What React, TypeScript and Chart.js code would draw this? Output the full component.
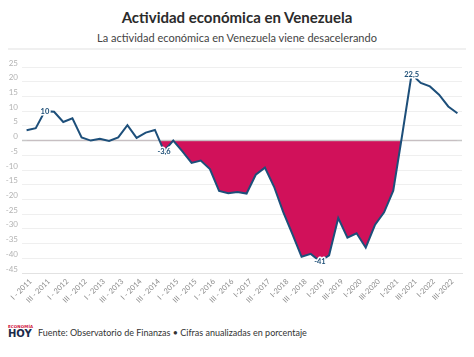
import React, { useEffect, useRef } from "react";
import { Chart, registerables } from "chart.js";

Chart.register(...registerables);

const categories: string[] = [
  "I - 2011", "II - 2011", "III - 2011", "IV - 2011",
  "I - 2012", "II - 2012", "III - 2012", "IV - 2012",
  "I - 2013", "II - 2013", "III - 2013", "IV - 2013",
  "I - 2014", "II - 2014", "III - 2014", "IV - 2014",
  "I - 2015", "II - 2015", "III - 2015", "IV - 2015",
  "I - 2016", "II - 2016", "III - 2016", "IV - 2016",
  "I-2017", "II - 2017", "III - 2017", "IV - 2017",
  "I-2018", "II - 2018", "III - 2018", "IV - 2018",
  "I-2019", "II-2019", "III-2019", "IV-2019",
  "I-2020", "II-2020", "III-2020", "IV-2020",
  "I-2021", "II-2021", "III-2021", "IV-2021",
  "I-2022", "II-2022", "III-2022", "IV-2022",
];

// visible x tick labels (every other quarter)
const xTickLabels: string[] = [
  "I - 2011", "III - 2011", "I - 2012", "III - 2012",
  "I - 2013", "III - 2013", "I - 2014", "III - 2014",
  "I - 2015", "III - 2015", "I - 2016", "III - 2016",
  "I-2017", "III - 2017", "I-2018", "III - 2018",
  "I-2019", "III-2019", "I-2020", "III-2020",
  "I-2021", "III-2021", "I-2022", "III-2022",
];

const activity: number[] = [
  3.5, 4.2, 10, 9.8, 6.3, 7.6, 1.1, 0,
  0.6, -0.1, 1.1, 5.2, 0.9, 2.7, 3.6, -3.6,
  0, -3.7, -7.6, -6.8, -9.7, -17.1, -17.9, -17.5,
  -18, -11.6, -9.2, -15.7, -24.3, -31.8, -39.5, -38.5,
  -41, -39, -26.3, -33, -31.5, -36.4, -28.7, -24.4,
  -17, 2.4, 22.5, 19.6, 18.4, 15.6, 11.6, 9.3,
];

const annotatedIndices: number[] = [2, 15, 32, 42];
const annotationTexts: string[] = ["10", "-3,6", "-41", "22,5"];

const yMin = -45;
const yMax = 25;
const yStep = 5;

const FONT = "Lato, 'Open Sans', sans-serif";

const zeroLinePlugin = {
  id: "zeroLine",
  beforeDatasetsDraw(chart: any) {
    const y = chart.scales.y.getPixelForValue(0);
    const { left, right } = chart.chartArea;
    const ctx = chart.ctx;
    ctx.save();
    ctx.strokeStyle = "rgba(190,190,190,0.85)";
    ctx.lineWidth = 1.5;
    ctx.beginPath();
    ctx.moveTo(left, y);
    ctx.lineTo(right, y);
    ctx.stroke();
    ctx.restore();
  },
};

const labelPlugin = {
  id: "valueLabels",
  afterDatasetsDraw(chart: any) {
    const meta = chart.getDatasetMeta(0);
    const ctx = chart.ctx;
    ctx.save();
    ctx.font = "bold 7.5px " + FONT;
    ctx.textAlign = "center";
    ctx.textBaseline = "middle";
    annotatedIndices.forEach((idx, k) => {
      const pt = meta.data[idx];
      if (!pt) return;
      ctx.lineWidth = 3;
      ctx.strokeStyle = "#ffffff";
      ctx.lineJoin = "round";
      ctx.strokeText(annotationTexts[k], pt.x, pt.y);
      ctx.fillStyle = "#1b4d75";
      ctx.fillText(annotationTexts[k], pt.x, pt.y);
    });
    ctx.restore();
  },
};

export default function App() {
  const canvasRef = useRef<HTMLCanvasElement | null>(null);

  useEffect(() => {
    if (!canvasRef.current) return;
    const chart = new Chart(canvasRef.current, {
      type: "line",
      data: {
        labels: categories,
        datasets: [
          {
            data: activity,
            borderColor: "#1d4f7a",
            borderWidth: 2,
            pointRadius: 0,
            tension: 0,
            fill: {
              target: { value: 0 },
              above: "rgba(0,0,0,0)",
              below: "#d1115a",
            },
          } as any,
        ],
      },
      options: {
        animation: false,
        responsive: false,
        maintainAspectRatio: false,
        layout: { padding: { top: 17, right: 12, left: 0, bottom: 0 } },
        plugins: {
          legend: { display: false },
          tooltip: { enabled: false },
          title: { display: false },
          filler: { drawTime: "beforeDatasetsDraw" },
        } as any,
        scales: {
          x: {
            offset: true,
            grid: { display: false, drawTicks: false },
            border: { display: true, color: "#e2e2e2", dash: [2, 2] },
            ticks: {
              autoSkip: false,
              maxRotation: 45,
              minRotation: 45,
              padding: 4,
              labelOffset: 4,
              color: "#8a8a8a",
              font: { family: FONT, size: 7.5 },
              callback: (_v: any, i: number) => (i % 2 === 0 ? xTickLabels[i / 2] : ""),
            },
            afterFit: (s: any) => {
              s.height = 39;
            },
          },
          y: {
            min: yMin,
            max: yMax,
            grid: {
              drawTicks: false,
              color: (c: any) => (c.tick && c.tick.value === 0 ? "rgba(0,0,0,0)" : "#efefef"),
              lineWidth: 1,
            },
            border: { display: false },
            ticks: {
              stepSize: yStep,
              padding: 4,
              labelOffset: -4,
              color: "#b3b3b3",
              font: { family: FONT, size: 8 },
            },
            afterFit: (s: any) => {
              s.width = 22;
            },
          },
        },
      },
      plugins: [zeroLinePlugin, labelPlugin],
    });
    return () => chart.destroy();
  }, []);

  return (
    <div
      style={{
        position: "fixed",
        left: 0,
        top: 0,
        width: 474,
        height: 357,
        background: "#ffffff",
        fontFamily: FONT,
        overflow: "hidden",
      }}
    >
      <div
        style={{
          position: "absolute",
          top: 9.5,
          left: 0,
          width: 474,
          textAlign: "center",
          fontSize: 15,
          lineHeight: "15px",
          fontWeight: 700,
          color: "#2b2b2b",
          whiteSpace: "nowrap",
        }}
      >
        Actividad económica en Venezuela
      </div>
      <div
        style={{
          position: "absolute",
          top: 31.5,
          left: 0,
          width: 474,
          textAlign: "center",
          fontSize: 11,
          lineHeight: "12px",
          color: "#444444",
          whiteSpace: "nowrap",
        }}
      >
        La actividad económica en Venezuela viene desacelerando
      </div>
      <div
        style={{
          position: "absolute",
          top: 48,
          left: 8,
          width: 458,
          height: 2,
          background: "#f0f0f0",
        }}
      />
      <canvas
        ref={canvasRef}
        width={474}
        height={262}
        style={{ position: "absolute", left: 0, top: 50, width: 474, height: 262 }}
      />
      <div
        style={{
          position: "absolute",
          left: 8,
          top: 325,
          width: 30,
          fontFamily: "'DejaVu Sans', sans-serif",
        }}
      >
        <div
          style={{
            fontSize: 4,
            lineHeight: "4px",
            fontWeight: 700,
            color: "#d0103a",
            letterSpacing: 0.1,
            whiteSpace: "nowrap",
          }}
        >
          ECONOMÍA
        </div>
        <div
          style={{
            fontSize: 10,
            lineHeight: "10px",
            fontWeight: 700,
            color: "#1b2a4a",
            whiteSpace: "nowrap",
          }}
        >
          HOY
        </div>
      </div>
      <div
        style={{
          position: "absolute",
          left: 38,
          top: 328,
          fontSize: 9,
          lineHeight: "10px",
          color: "#333333",
          whiteSpace: "nowrap",
        }}
      >
        Fuente: Observatorio de Finanzas • Cifras anualizadas en porcentaje
      </div>
    </div>
  );
}
